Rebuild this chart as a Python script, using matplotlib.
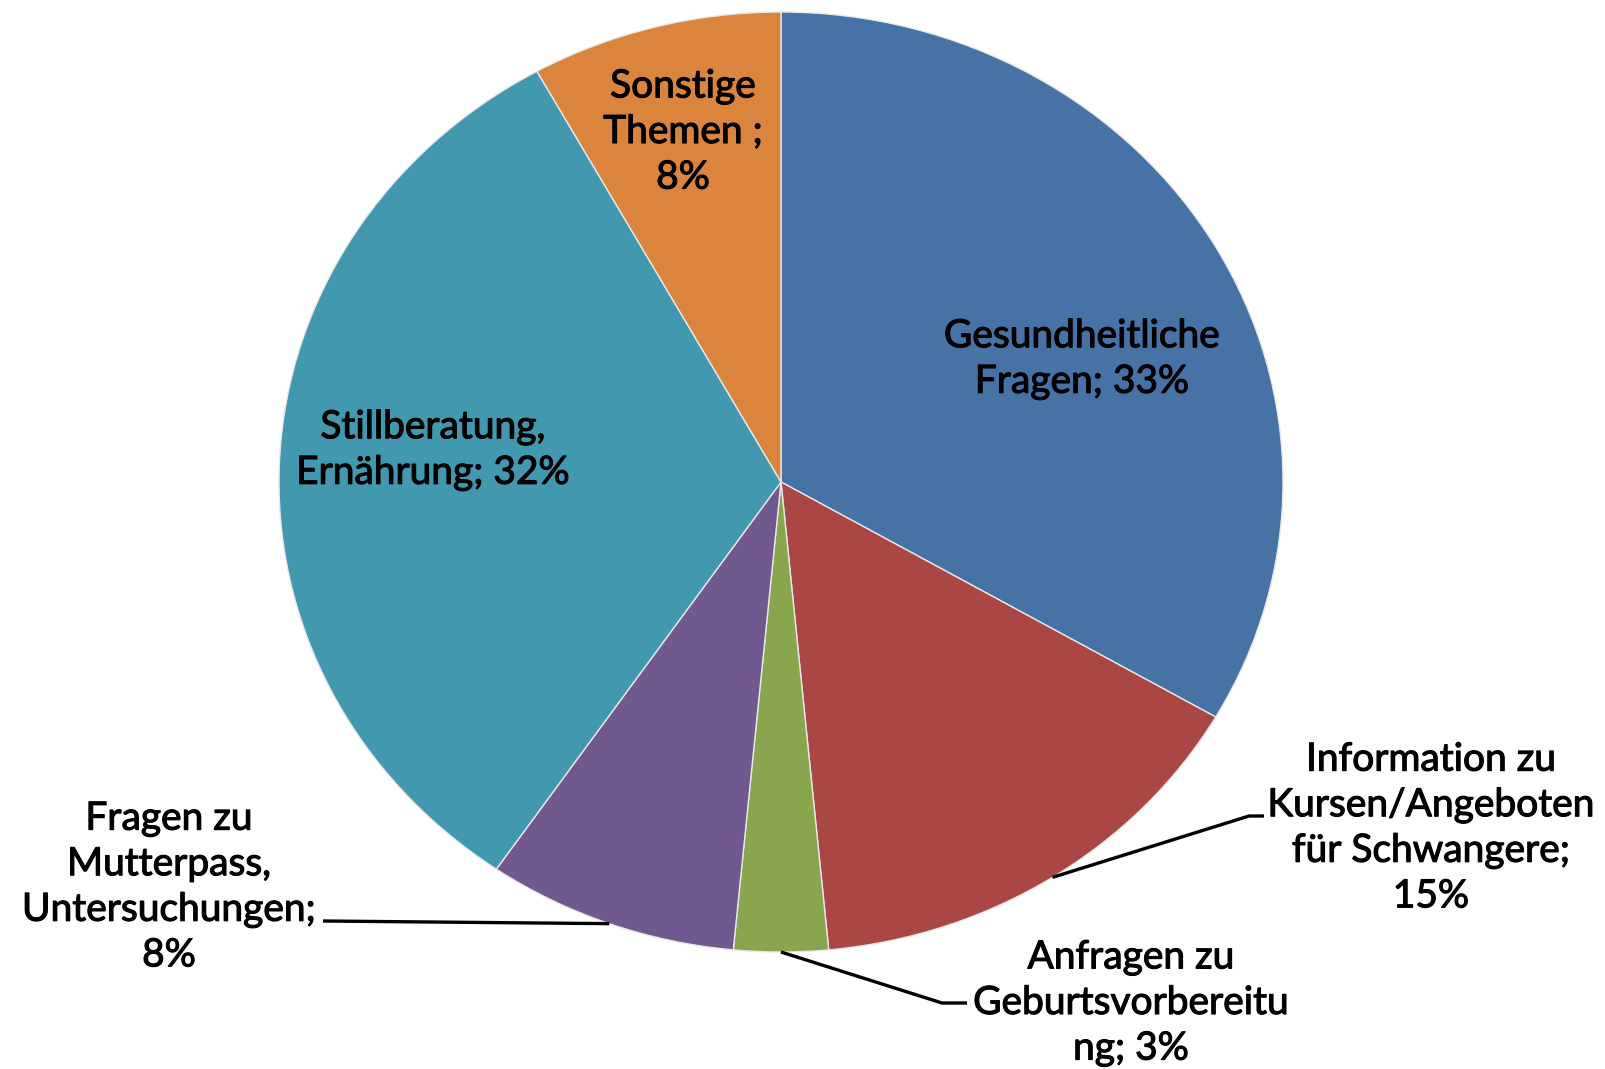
import numpy as np
import matplotlib.pyplot as plt
import matplotlib.patheffects as pe

# Daten (Uhrzeigersinn ab 12 Uhr)
labels = ['Gesundheitliche\nFragen; 33%',
          'Information zu\nKursen/Angeboten\nfür Schwangere;\n15%',
          'Anfragen zu\nGeburtsvorbereitu\nng; 3%',
          'Fragen zu\nMutterpass,\nUntersuchungen;\n8%',
          'Stillberatung,\nErnährung; 32%',
          'Sonstige\nThemen ;\n8%']
values = [33, 15, 3, 8, 32, 8]
colors = ['#4672A6', '#AA4643', '#89A54E', '#71588F', '#4298AF', '#DB843D']

W, H = 1605, 1069
cx, cy, rx, ry = 781, 482, 502, 470

fig = plt.figure(figsize=(W / 100, H / 100), dpi=100)
ax = fig.add_axes([(cx - rx) / W, (H - cy - ry) / H, 2 * rx / W, 2 * ry / H])
wedges, _ = ax.pie(values, colors=colors, startangle=90, counterclock=False,
                   wedgeprops=dict(edgecolor='#e8e8e8', linewidth=1.0))
ax.set_aspect('auto')
ax.set_xlim(-1, 1)
ax.set_ylim(-1, 1)
ax.axis('off')

# Textpositionen in Pixel (Mitte des Textblocks)
pos = [(1082, 359), (1431, 828), (1131, 1003), (169, 887), (433, 450), (683, 132)]

def to_data(px, py):
    return (px - cx) / rx, (cy - py) / ry

for lab, (px, py) in zip(labels, pos):
    x, y = to_data(px, py)
    ax.text(x, y, lab, ha='center', va='center', fontsize=28, family='Lato',
            color='black', linespacing=1.33,
            path_effects=[pe.withStroke(linewidth=0.8, foreground='black')])

# Führungslinien: vom Segment-Mittelpunkt am Rand zum Text
leaders = {1: [(1249, 816), (1264, 816)],
           2: [(942, 1003), (967, 1003)],
           3: [(323, 921)]}
for i, pts in leaders.items():
    w = wedges[i]
    mid = np.deg2rad((w.theta1 + w.theta2) / 2)
    xs = [np.cos(mid)]
    ys = [np.sin(mid)]
    for px, py in pts:
        x, y = to_data(px, py)
        xs.append(x)
        ys.append(y)
    ax.plot(xs, ys, color='black', lw=2.4, clip_on=False, solid_capstyle='butt')

plt.savefig('out.png', dpi=100)
